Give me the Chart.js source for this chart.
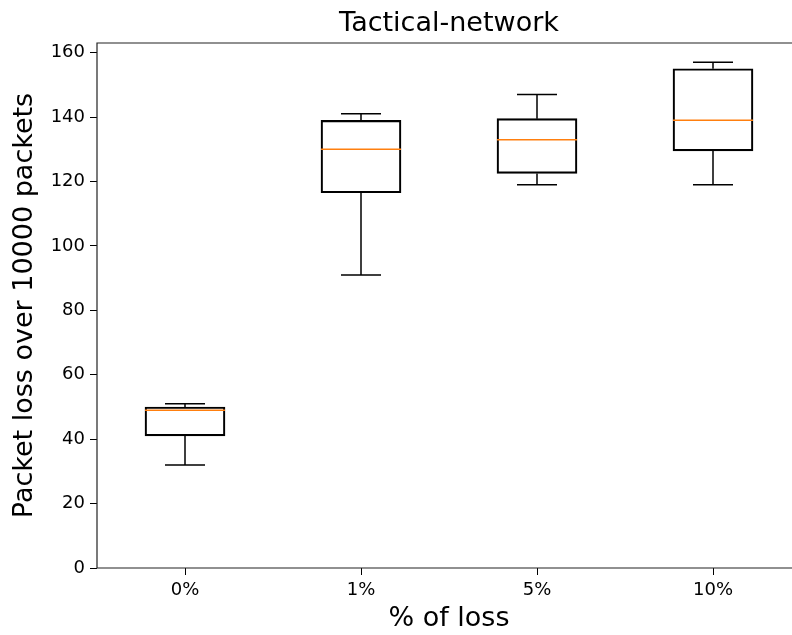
<!DOCTYPE html>
<html>
<head>
<meta charset="utf-8">
<script src="https://cdn.jsdelivr.net/npm/chart.js@4/dist/chart.umd.min.js"></script>
<style>
  html, body { margin: 0; padding: 0; background: #fff; overflow: hidden; }
</style>
</head>
<body>
<canvas id="box_chart" width="812" height="635"></canvas>
<script>
  const chartTitle = 'Tactical-network';
  const categories = ['0%', '1%', '5%', '10%'];
  const whiskerLow = [32, 91, 119, 119];
  const q1 = [41, 116.5, 122.5, 129.5];
  const median = [49, 130, 133, 139];
  const q3 = [50, 139, 139.5, 155];
  const whiskerHigh = [51, 141, 147, 157];
  const yTicks = [0, 20, 40, 60, 80, 100, 120, 140, 160];

  // whiskers, caps, medians, spines and the title (centred over the axes like matplotlib)
  const boxExtras = {
    id: 'boxExtras',
    afterDatasetsDraw(chart) {
      const { ctx, chartArea, scales: { x, y } } = chart;
      ctx.save();
      ctx.lineWidth = 1.5;
      categories.forEach((c, i) => {
        const cx = x.getPixelForValue(i + 1);
        ctx.strokeStyle = '#000';
        ctx.beginPath();
        ctx.moveTo(cx, y.getPixelForValue(q3[i]));
        ctx.lineTo(cx, y.getPixelForValue(whiskerHigh[i]));
        ctx.moveTo(cx, y.getPixelForValue(q1[i]));
        ctx.lineTo(cx, y.getPixelForValue(whiskerLow[i]));
        ctx.moveTo(cx - 20, y.getPixelForValue(whiskerHigh[i]));
        ctx.lineTo(cx + 20, y.getPixelForValue(whiskerHigh[i]));
        ctx.moveTo(cx - 20, y.getPixelForValue(whiskerLow[i]));
        ctx.lineTo(cx + 20, y.getPixelForValue(whiskerLow[i]));
        ctx.stroke();
        ctx.strokeStyle = '#ff7f0e';
        ctx.beginPath();
        ctx.moveTo(cx - 40, y.getPixelForValue(median[i]));
        ctx.lineTo(cx + 40, y.getPixelForValue(median[i]));
        ctx.stroke();
      });
      ctx.strokeStyle = '#222';
      ctx.lineWidth = 1.2;
      ctx.beginPath();
      ctx.moveTo(chartArea.right, chartArea.top);
      ctx.lineTo(chartArea.left, chartArea.top);
      ctx.lineTo(chartArea.left, chartArea.bottom);
      ctx.lineTo(chartArea.right, chartArea.bottom);
      ctx.stroke();

      ctx.fillStyle = '#000';
      ctx.font = '27px "DejaVu Sans"';
      ctx.textAlign = 'center';
      ctx.textBaseline = 'alphabetic';
      ctx.fillText(chartTitle, (chartArea.left + chartArea.right) / 2, 31);
      ctx.restore();
    }
  };

  new Chart(document.getElementById('box_chart'), {
    type: 'bar',
    data: {
      datasets: [{
        data: categories.map((c, i) => ({ x: i + 1, y: [q1[i], q3[i]] })),
        backgroundColor: 'rgba(255,255,255,0)',
        borderColor: '#000',
        borderWidth: 1.5,
        borderSkipped: false,
        barThickness: 80
      }]
    },
    options: {
      responsive: false,
      animation: false,
      layout: { padding: { left: 0, right: 11, top: 43, bottom: 0 } },
      plugins: {
        legend: { display: false },
        tooltip: { enabled: false },
        title: { display: false }
      },
      scales: {
        x: {
          type: 'linear',
          min: 0.5,
          max: 4.5,
          offset: false,
          afterBuildTicks: (scale) => { scale.ticks = categories.map((c, i) => ({ value: i + 1 })); },
          afterFit: (scale) => { scale.height = 67; },
          border: { display: false },
          grid: { offset: false, drawOnChartArea: false, drawTicks: true, tickLength: 7, color: '#000' },
          ticks: {
            color: '#000',
            padding: 5,
            maxRotation: 0,
            font: { family: 'DejaVu Sans', size: 18 },
            callback: (v) => categories[v - 1]
          },
          title: {
            display: true,
            text: '% of loss',
            color: '#000',
            font: { family: 'DejaVu Sans', size: 27 },
            padding: { top: 0, bottom: 0 }
          }
        },
        y: {
          min: 0,
          max: 163,
          afterBuildTicks: (scale) => { scale.ticks = yTicks.map(v => ({ value: v })); },
          afterFit: (scale) => { scale.width = 97; },
          border: { display: false },
          grid: { drawOnChartArea: false, drawTicks: true, tickLength: 7, color: '#000' },
          ticks: {
            color: '#000',
            padding: 5,
            font: { family: 'DejaVu Sans', size: 18 }
          },
          title: {
            display: true,
            text: 'Packet loss over 10000 packets',
            color: '#000',
            font: { family: 'DejaVu Sans', size: 27 },
            padding: { top: 9, bottom: 0 }
          }
        }
      }
    },
    plugins: [boxExtras]
  });
</script>
</body>
</html>
